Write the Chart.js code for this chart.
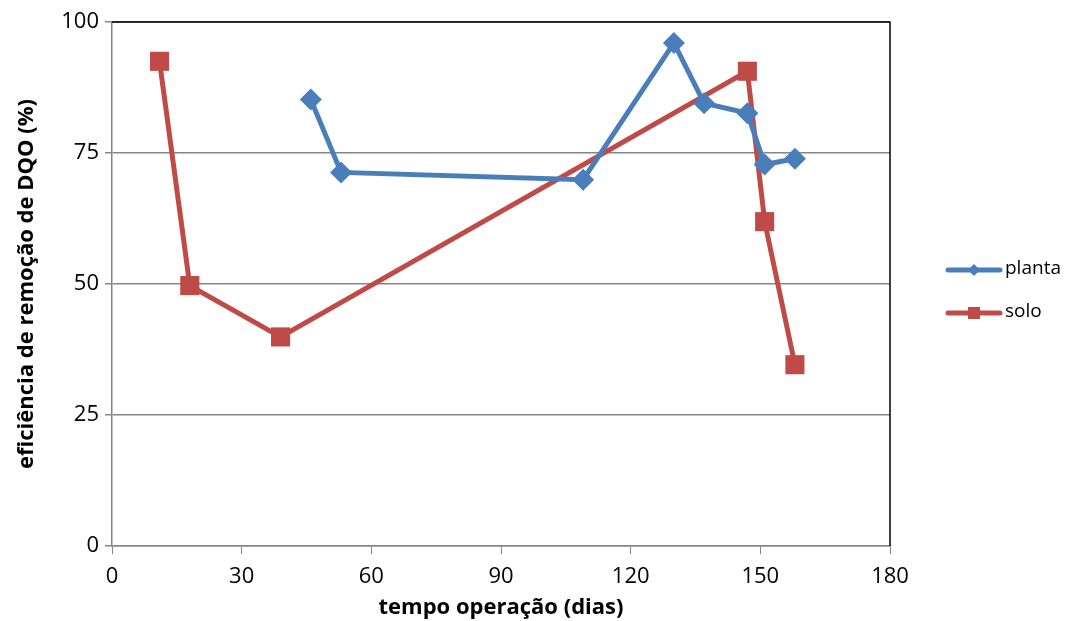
<!DOCTYPE html>
<html>
<head>
<meta charset="utf-8">
<script src="https://cdn.jsdelivr.net/npm/chart.js@4.4.1/dist/chart.umd.min.js"></script>
<style>
    html, body { margin: 0; padding: 0; background: #fff; }
    #wrap { width: 1065px; height: 621px; }
</style>
</head>
<body>
<div id="wrap"><canvas id="grafico"></canvas></div>
<script>
// dados
const diasPlanta = [46, 53, 109, 130, 137, 147, 151, 158];
const eficPlanta = [85.2, 71.3, 69.9, 96.0, 84.5, 82.6, 72.8, 73.9];

const diasSolo = [11, 18, 39, 147, 151, 158];
const eficSolo = [92.5, 49.7, 39.9, 90.6, 61.9, 34.6];

const ticksX = [0, 30, 60, 90, 120, 150, 180];
const ticksY = [0, 25, 50, 75, 100];

const AZUL = '#4a7ebb';
const VERMELHO = '#be4b48';
const FONTE = '"Open Sans", Lato, sans-serif';

function pontos(xs, ys) {
    return xs.map((x, i) => ({ x: x, y: ys[i] }));
}

// moldura preta em cima e na direita + legenda à direita
const extras = {
    id: 'extras',
    afterDraw(chart) {
        const ctx = chart.ctx;
        const a = chart.chartArea;
        ctx.save();
        ctx.strokeStyle = '#000';
        ctx.lineWidth = 1.5;
        ctx.beginPath();
        ctx.moveTo(a.left, a.top);
        ctx.lineTo(a.right, a.top);
        ctx.lineTo(a.right, a.bottom);
        ctx.stroke();

        const itens = [
            { nome: 'planta', cor: AZUL, forma: 'losango', y: 270 },
            { nome: 'solo', cor: VERMELHO, forma: 'quadrado', y: 313 }
        ];
        itens.forEach(it => {
            ctx.strokeStyle = it.cor;
            ctx.fillStyle = it.cor;
            ctx.lineWidth = 5;
            ctx.lineCap = 'round';
            ctx.beginPath();
            ctx.moveTo(948, it.y);
            ctx.lineTo(1000, it.y);
            ctx.stroke();
            if (it.forma === 'losango') {
                ctx.beginPath();
                ctx.moveTo(974, it.y - 6);
                ctx.lineTo(980, it.y);
                ctx.lineTo(974, it.y + 6);
                ctx.lineTo(968, it.y);
                ctx.closePath();
                ctx.fill();
            } else {
                ctx.fillRect(968, it.y - 6, 12, 12);
            }
            ctx.fillStyle = '#000';
            ctx.font = '19px ' + FONTE;
            ctx.textAlign = 'left';
            ctx.textBaseline = 'middle';
            ctx.fillText(it.nome, 1005, it.y - 1);
        });
        ctx.restore();
    }
};

new Chart(document.getElementById('grafico'), {
    type: 'line',
    data: {
        datasets: [{
            label: 'planta',
            data: pontos(diasPlanta, eficPlanta),
            borderColor: AZUL,
            backgroundColor: AZUL,
            borderWidth: 5,
            pointStyle: 'rectRot',
            pointRadius: 11,
            pointHoverRadius: 11,
            pointBorderWidth: 0,
            tension: 0
        }, {
            label: 'solo',
            data: pontos(diasSolo, eficSolo),
            borderColor: VERMELHO,
            backgroundColor: VERMELHO,
            borderWidth: 5,
            pointStyle: 'rect',
            pointRadius: 13.5,
            pointHoverRadius: 13.5,
            pointBorderWidth: 0,
            tension: 0
        }]
    },
    options: {
        responsive: true,
        maintainAspectRatio: false,
        animation: false,
        layout: { padding: { top: 22, right: 175, left: 0, bottom: 0 } },
        plugins: {
            legend: { display: false },
            tooltip: { enabled: false }
        },
        scales: {
            x: {
                type: 'linear',
                min: 0,
                max: 180,
                afterBuildTicks: axis => { axis.ticks = ticksX.map(v => ({ value: v })); },
                afterFit: axis => { axis.height = 75; },
                grid: { drawOnChartArea: false, drawTicks: true, tickLength: 8, color: '#868686' },
                border: { color: '#868686', width: 1.5 },
                ticks: { color: '#000', font: { family: FONTE, size: 22 }, padding: 10, maxRotation: 0 },
                title: {
                    display: true,
                    text: 'tempo operação (dias)',
                    color: '#000',
                    font: { family: FONTE, size: 22, weight: 'bold' },
                    padding: { top: 0, bottom: 0 }
                }
            },
            y: {
                min: 0,
                max: 100,
                afterBuildTicks: axis => { axis.ticks = ticksY.map(v => ({ value: v })); },
                afterFit: axis => { axis.width = 112; },
                grid: { color: '#868686', lineWidth: 1.5, tickLength: 7 },
                border: { color: '#868686', width: 1.5 },
                ticks: { color: '#000', font: { family: FONTE, size: 22 }, padding: 6 },
                title: {
                    display: true,
                    text: 'eficiência de remoção de DQO (%)',
                    color: '#000',
                    font: { family: FONTE, size: 22, weight: 'bold' },
                    padding: { top: 14, bottom: 0 }
                }
            }
        }
    },
    plugins: [extras]
});
</script>
</body>
</html>
